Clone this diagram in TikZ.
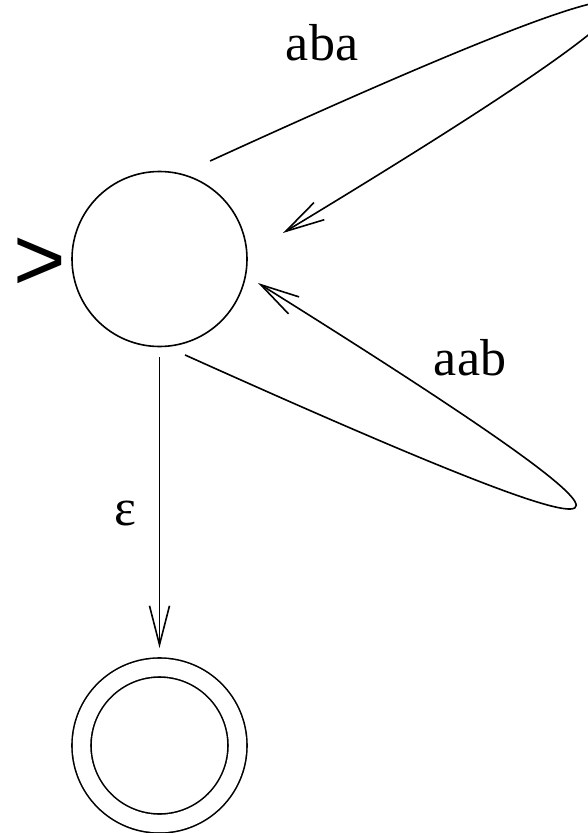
\documentclass[tikz,border=0pt]{standalone}
\usepackage{fontspec}
\setmainfont{Liberation Serif}
\newfontfamily\lblfont{Liberation Serif}
\newfontfamily\markfont{Liberation Sans}
\usetikzlibrary{positioning,arrows.meta}

\begin{document}
\begin{tikzpicture}[x=1pt, y=1pt, line width=1.6pt,
  statenode/.style={draw, circle, minimum size=175pt, inner sep=0pt, outer sep=0pt},
  finalnode/.style={draw, circle, double, double distance=17.4pt, minimum size=156pt, inner sep=0pt, outer sep=0pt},
  trans/.style={-{Straight Barb[length=39pt, width=20pt]}},
  lbl/.style={font=\lblfont\fontsize{52}{60}\selectfont, inner sep=0pt, anchor=base}]

\useasboundingbox (0,0) rectangle (588,-833);

% Nodes
\node (q0) [statenode] at (159.5,-259) {};
\node (qf) [finalnode, below=321pt of q0] {};
\node (startmark) [left=4.7pt of q0, yshift=-5pt, inner sep=0pt, font=\markfont\fontsize{90}{92}\selectfont] {>};

% Labels
\node (abalbl) [lbl] at (322,-60) {aba};
\node (aablbl) [lbl] at (470,-375) {aab};
\node (epslbl) [lbl] at (125,-525) {ε};

% Arrows
\draw[trans] ([shift={(62.7:110.3pt)}]q0.center) .. controls +(504.5,230.9) and +(475.1,286.9) .. ([shift={(11.9:126.2pt)}]q0.center);
\draw[trans] ([shift={(-75.1:99.3pt)}]q0.center) .. controls +(487.4,-219.4) and +(453.7,-283.6) .. ([shift={(-13.7:101.4pt)}]q0.center);
\draw[trans, shorten <=10.5pt, shorten >=19.5pt] (q0) -- (qf);

\end{tikzpicture}
\end{document}
